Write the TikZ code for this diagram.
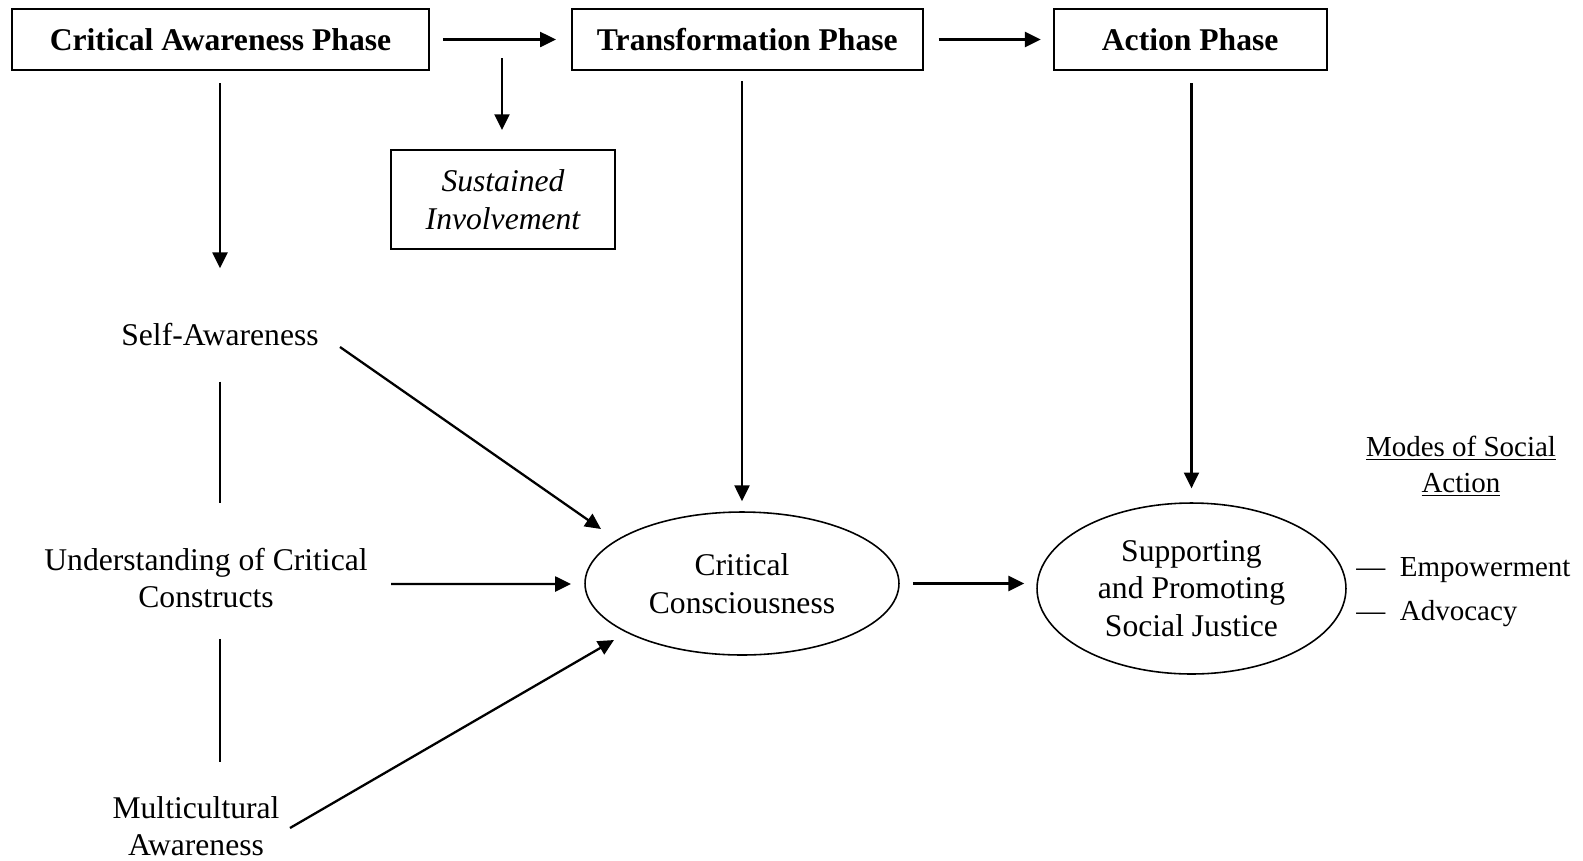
\documentclass[tikz,border=0pt]{standalone}
\usepackage{fontspec}
\setmainfont{Liberation Serif}
\usetikzlibrary{positioning,calc,arrows.meta,shapes.geometric}

\begin{document}
\begin{tikzpicture}[x=0.02cm, y=-0.02cm,
phasebox/.style={draw=black, line width=1.1pt, minimum height=1.23cm, inner sep=2pt, font=\fontsize{18}{21.3}\selectfont\bfseries},
ovalnode/.style={ellipse, draw=black, line width=0.9pt, inner sep=0pt, align=center, font=\fontsize{18}{21.3}\selectfont},
textnode/.style={inner sep=0pt, align=center, font=\fontsize{18}{21.3}\selectfont},
sidenode/.style={inner sep=0pt, align=center, font=\fontsize{16.5}{20.4}\selectfont},
flow/.style={-{Triangle[length=9pt,width=8.5pt]}, line width=1.3pt},
joint/.style={line width=0.9pt},
]
\useasboundingbox (0,0) rectangle (1583,860);
%Nodes
\node[phasebox, minimum width=8.34cm] (CAP) at (220.5,39.5) {Critical Awareness Phase};
\node[phasebox, minimum width=7.02cm] (TP)  [right=2.82cm of CAP] {Transformation Phase};
\node[phasebox, minimum width=5.46cm] (AP)  [right=2.58cm of TP] {Action Phase};
\node[phasebox, font=\fontsize{18}{21.3}\selectfont\itshape, align=center,
      minimum width=4.48cm, minimum height=1.98cm] (SI) at (503,199.5) {Sustained\\Involvement};
\node[textnode] (SelfAw)  at (220,335) {Self-Awareness};
\node[textnode] (Underst) at (206,578) {Understanding of Critical\\Constructs};
\node[textnode] (Multi)   at (196,826) {Multicultural\\Awareness};
\node[ovalnode, minimum width=6.28cm, minimum height=2.86cm] (CC) at (742,583.5) {Critical\\Consciousness};
\node[ovalnode, minimum width=6.18cm, minimum height=3.42cm] (SPSJ) at (1191.5,588.5) {Supporting\\and Promoting\\Social Justice};
\node[sidenode] (Modes) at (1461,466) {\underline{Modes of Social}\\\underline{Action}};
\node[sidenode, anchor=base west] (Emp) at (1356,576) {—\enspace Empowerment};
\node[sidenode, anchor=base west] (Adv) at (1356,620) {—\enspace Advocacy};
\coordinate (split) at (502,58);
%Lines
\draw[flow, shorten <=7.4pt, shorten >=8.5pt] (CAP.east) -- (CAP.east -| TP.west);
\draw[flow, shorten <=8.5pt, shorten >=6.8pt] (AP.west -| TP.east) -- (AP.west);
\draw[flow, shorten >=10.8pt] (split) -- (split |- SI.north);
\draw[flow, shorten <=6.8pt, shorten >=38pt] (SelfAw.center |- CAP.south) -- (SelfAw.center);
\draw[flow, shorten <=5.7pt, shorten >=5.7pt] (CC.north |- TP.south) -- (CC.north);
\draw[flow, shorten <=6.8pt, shorten >=7.9pt] (SPSJ.north |- AP.south) -- (SPSJ.north);
\draw[flow] ($(SelfAw.center)+(120,12)$) -- ($(CC.center)+(-141,-54.5)$);
\draw[flow] ($(Underst.center)+(185,6)$) -- ($(CC.center)+(-171,0.5)$);
\draw[flow] ($(Multi.center)+(94,2)$) -- ($(CC.center)+(-128,56.5)$);
\draw[flow, shorten <=7.4pt, shorten >=6.8pt] (CC.east) -- (CC.east -| SPSJ.west);
\draw[joint, shorten <=26.6pt, shorten >=42.5pt] (SelfAw.center) -- (SelfAw.center |- Underst.center);
\draw[joint, shorten <=34.6pt, shorten >=36.3pt] (SelfAw.center |- Underst.center) -- (SelfAw.center |- Multi.center);
\end{tikzpicture}
\end{document}
